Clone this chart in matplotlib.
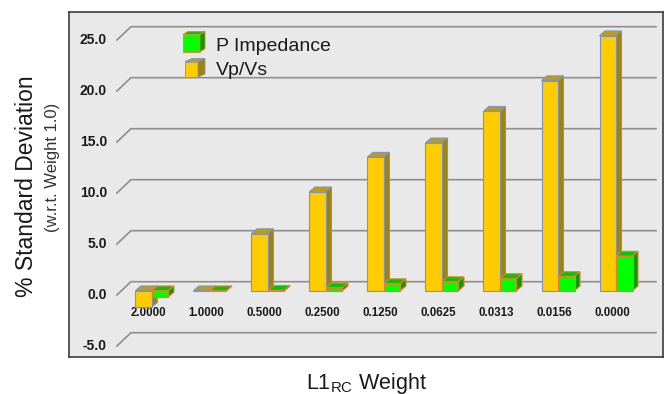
import numpy as np
import matplotlib.pyplot as plt
from matplotlib.patches import Polygon

plt.rcParams['font.family'] = ['Liberation Sans', 'DejaVu Sans']
plt.rcParams['mathtext.default'] = 'regular'

# L1 regularisation weights and the % change in standard deviation
weights = ['2.0000', '1.0000', '0.5000', '0.2500', '0.1250',
           '0.0625', '0.0313', '0.0156', '0.0000']
vp_vs = [-1.6, 0.0, 5.6, 9.7, 13.1, 14.5, 17.6, 20.6, 25.0]
p_imp = [-0.6, 0.0, 0.05, 0.3, 0.7, 0.9, 1.2, 1.4, 3.4]
yticks = [-5.0, 0.0, 5.0, 10.0, 15.0, 20.0, 25.0]

YEL = dict(front='#FFCC00', top='#C09C08', side='#A38400', edge='#7A94C6')
GRN = dict(front='#00FF00', top='#00C800', side='#00A000', edge='#F07A30')

W, H = 666, 394
fig = plt.figure(figsize=(W / 100, H / 100), dpi=100)
fig.patch.set_facecolor('white')


def fx(p):
    return p / W


def fy(p):
    return 1 - p / H


ax = fig.add_axes([fx(69), fy(357), fx(663) - fx(69), fy(11.5) - fy(357)])
ax.set_facecolor('#E9E9E9')
ax.set_xlim(-1.43, 8.81)
ax.set_ylim(-6.5, 27.37)
ax.set_xticks([])
ax.set_yticks([])
for s in ax.spines.values():
    s.set_color('#3C3C3C')
    s.set_linewidth(1.2)

# size of one pixel in data units, used for the fake depth
bb = ax.get_window_extent()
ppx = bb.width / np.ptp(ax.get_xlim())
ppy = bb.height / np.ptp(ax.get_ylim())


def hx(p):
    return p / ppx


def hy(p):
    return p / ppy


x = np.arange(len(weights))

# back wall gridlines with the little diagonal at the front
x_front = x[0] - hx(35)
x_back = x[0] - hx(21)
x_end = x[-1] + hx(40)
for t in yticks:
    ax.plot([x_front, x_back, x_end], [t - hy(4.3), t + hy(9), t + hy(9)],
            color='#8E8E8E', lw=1.2, zorder=1, solid_joinstyle='miter')
    ax.text(x_front - hx(10), t - hy(4.3), f'{t:.1f}', ha='right', va='center',
            fontsize=10, fontweight='bold', color='#1A1A1A')

bw = hx(16.5)
dx, dy = hx(5.5), hy(4.7)


def bars3d(left, vals, c, z):
    ax.bar(left, vals, width=bw, align='edge', color=c['front'],
           edgecolor=c['edge'], linewidth=0.8, zorder=z + 0.5)
    for xl, v in zip(left, vals):
        top, bot = max(v, 0), min(v, 0)
        ax.add_patch(Polygon([(xl, top), (xl + bw, top), (xl + bw + dx, top + dy),
                              (xl + dx, top + dy)], closed=True, fc=c['top'],
                             ec=c['edge'], lw=0.8, zorder=z))
        ax.add_patch(Polygon([(xl + bw, bot), (xl + bw + dx, bot + dy),
                              (xl + bw + dx, top + dy), (xl + bw, top)], closed=True,
                             fc=c['side'], ec=c['edge'], lw=0.8, zorder=z))


bars3d(x - bw, vp_vs, YEL, 3)
bars3d(x, p_imp, GRN, 4)

for xi, lab in zip(x, weights):
    ax.text(xi - hx(4), -2.22, lab, ha='center', va='center', fontsize=8.3,
            fontweight='bold', color='#1A1A1A')


# legend with small box icons
def icon(x0, x1, y0, y1, d, c):
    pts = {
        'front': [(x0, y0), (x1, y0), (x1, y1), (x0, y1)],
        'top': [(x0, y0), (x1, y0), (x1 + d, y0 - 3), (x0 + d, y0 - 3)],
        'side': [(x1, y0), (x1 + d, y0 - 3), (x1 + d, y1 - 3), (x1, y1)],
    }
    for k, p in pts.items():
        fig.add_artist(Polygon([(fx(a), fy(b)) for a, b in p], closed=True,
                               fc=c[k], ec=c['edge'], lw=0.6,
                               transform=fig.transFigure))


icon(183, 200, 34.5, 51.7, 5, GRN)
icon(185, 198, 61.5, 77, 7, YEL)
fig.text(fx(216), fy(50.7), 'P Impedance', fontsize=14, va='baseline', color='#1A1A1A')
fig.text(fx(216), fy(75), 'Vp/Vs', fontsize=14, va='baseline', color='#1A1A1A')

# axis titles
fig.text(fx(27), fy(186), '% Standard Deviation', rotation=90, ha='center',
         va='center', fontsize=16.5, color='#1A1A1A')
fig.text(fx(52), fy(167), '(w.r.t. Weight 1.0)', rotation=90, ha='center',
         va='center', fontsize=12, color='#333333')
fig.text(fx(366.7), fy(388.5), r'L1$_{\mathregular{RC}}$ Weight', ha='center',
         va='baseline', fontsize=15.5, color='#1A1A1A')

fig.savefig('out.png', dpi=100, facecolor='white')
